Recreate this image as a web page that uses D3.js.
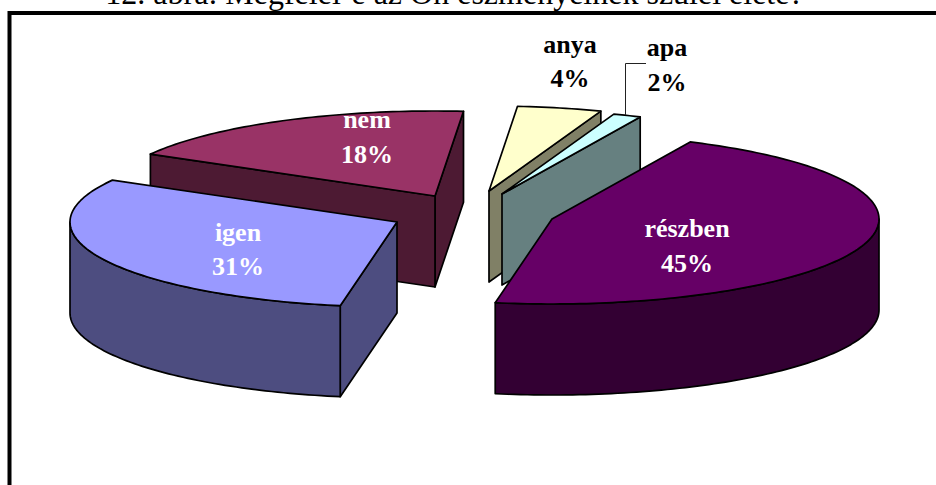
<!DOCTYPE html>
<html>
<head>
<meta charset="utf-8">
<script src="https://cdn.jsdelivr.net/npm/d3@7"></script>
<style>
  html, body { margin: 0; padding: 0; background: #fff; overflow: hidden; }
  svg { display: block; }
  text { font-family: "Liberation Serif", serif; }
</style>
</head>
<body>
<div id="chart"></div>
<script>
// 12. abra - exploded 3D pie
const categories = ["részben", "igen", "nem", "anya", "apa"];
const values = [45, 31, 18, 4, 2];
const topColors = ["#660066", "#9999FF", "#993366", "#FFFFCC", "#CCFFFF"];
const sideColors = ["#330033", "#4D4D80", "#4D1A33", "#808066", "#668080"];

const titleText = "12. ábra: Megfelel-e az Ön eszményeinek szülei élete?";

const W = 936, H = 485;
const rx = 327, ry = 85, depth = 91;

// where each exploded slice has its tip (tilted view)
const tips = [[552, 219], [397, 222], [435, 196], [489, 191], [502, 194]];
// label centre x, baseline of the two lines, colour
const labelPos = [[687, 237, 272, "#fff"], [238, 241, 275, "#fff"], [367, 128, 163, "#fff"], [570, 53, 87, "#000"], [667, 56, 91, "#000"]];
// back to front
const drawOrder = [2, 3, 4, 1, 0];

const svg = d3.select("#chart").append("svg").attr("width", W).attr("height", H);

// title is cropped by the top of the picture, same as in the original scan
svg.append("text")
  .attr("x", 454.5).attr("y", 4)
  .attr("text-anchor", "middle")
  .attr("font-size", 32)
  .text(titleText);

svg.append("path")
  .attr("d", `M9.5,${H + 5}V13H${W + 5}`)
  .attr("fill", "none").attr("stroke", "#000").attr("stroke-width", 4);

const rad = d => d * Math.PI / 180;
const startAngle = rad(-65);
const pie = d3.pie().sort(null).startAngle(startAngle).endAngle(startAngle + 2 * Math.PI);
const slices = pie(values);

// the view foreshortens the angles a bit, so slice borders land slightly off
const viewAngle = d3.scaleLinear()
  .domain([-65, 97, 208.6, 273.4, 287.8, 295].map(rad))
  .range([-65, 100, 209.5, 275, 290, 295].map(rad));

const line = d3.line();

function pt(i, a, drop) {
  const [tx, ty] = tips[i];
  return [tx + rx * Math.cos(a), ty + ry * Math.sin(a) + (drop || 0)];
}
function arcPts(i, a0, a1, drop) {
  const n = Math.max(2, Math.ceil(Math.abs(a1 - a0) / 0.02));
  return d3.range(n + 1).map(k => pt(i, a0 + (a1 - a0) * k / n, drop));
}

// wall running straight down from the tip to a rim angle
function radialWall(i, a) {
  const [tx, ty] = tips[i];
  return [[tx, ty], pt(i, a), pt(i, a, depth), [tx, ty + depth]];
}

const pies = svg.append("g")
  .attr("stroke", "#000").attr("stroke-width", 1.7).attr("stroke-linejoin", "round");

drawOrder.forEach(i => {
  const s = slices[i];
  const g = pies.append("g").attr("class", "slice");
  const a0 = viewAngle(s.startAngle), a1 = viewAngle(s.endAngle);

  // cut faces, only the ones turned to the viewer
  if (i === 2 || i === 3 || i === 4) {
    g.append("path").attr("d", line(radialWall(i, a1)) + "Z").attr("fill", sideColors[i]);
  }
  if (i === 2 || i === 1) {
    g.append("path").attr("d", line(radialWall(i, a0)) + "Z").attr("fill", sideColors[i]);
  }

  // outer rim, front half only (sin > 0)
  const f0 = Math.max(a0, 0), f1 = Math.min(a1, Math.PI);
  if (f1 > f0) {
    const top = arcPts(i, f0, f1, 0);
    const bottom = arcPts(i, f1, f0, depth);
    g.append("path").attr("d", line(top.concat(bottom)) + "Z").attr("fill", sideColors[i]);
  }

  // top face
  const [tx, ty] = tips[i];
  g.append("path")
    .attr("d", line([[tx, ty]].concat(arcPts(i, a0, a1, 0))) + "Z")
    .attr("fill", topColors[i]);
});

// leader for apa
svg.append("path")
  .attr("d", "M646,63.5H625.5V115")
  .attr("fill", "none").attr("stroke", "#222").attr("stroke-width", 1);

// labels
categories.forEach((c, i) => {
  const [x, y1, y2, col] = labelPos[i];
  const t = svg.append("text")
    .attr("text-anchor", "middle")
    .attr("font-size", 26)
    .attr("font-weight", "bold")
    .attr("fill", col);
  t.append("tspan").attr("x", x).attr("y", y1).text(c);
  t.append("tspan").attr("x", x).attr("y", y2).text(values[i] + "%");
});
</script>
</body>
</html>
